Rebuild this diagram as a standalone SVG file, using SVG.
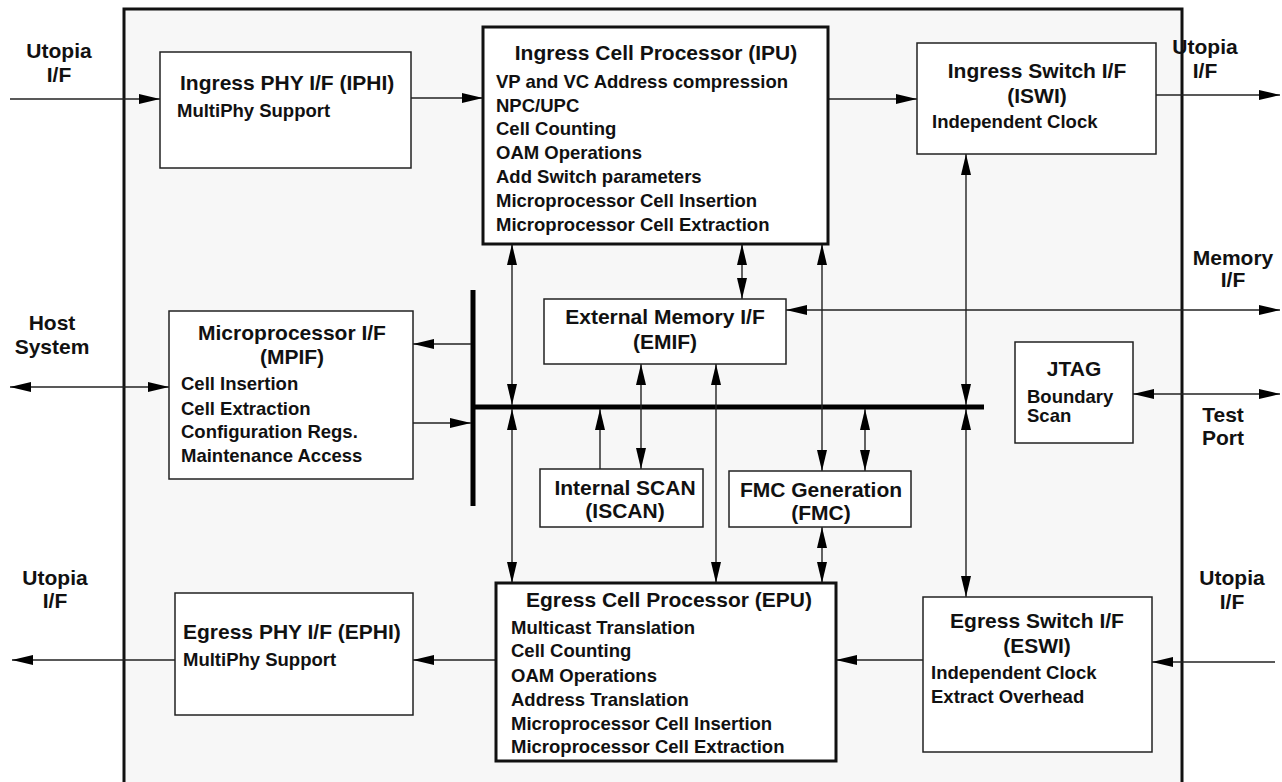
<svg xmlns="http://www.w3.org/2000/svg" width="1282" height="782" viewBox="0 0 1282 782">
<defs>
<marker id="ah" markerUnits="userSpaceOnUse" markerWidth="22" markerHeight="11" refX="21" refY="5" orient="auto-start-reverse">
<path d="M0,0 L21,5 L0,10 z" fill="#000"/>
</marker>
<style>
text{font-family:"Liberation Sans",Arial,sans-serif;font-weight:bold;fill:#111}
.t{font-size:21px}
.s{font-size:18.5px}
.l{font-size:21px;text-anchor:middle}
.c{text-anchor:middle}
.box{fill:#fff;stroke:#222;stroke-width:1.5}
.bold{fill:#fff;stroke:#111;stroke-width:3}
.w{fill:none;stroke:#222;stroke-width:1.4}
.e{marker-end:url(#ah)}
.b{marker-start:url(#ah);marker-end:url(#ah)}
.bus{stroke:#000;stroke-width:5;fill:none}
</style>
</defs>
<rect width="1282" height="782" fill="#fff"/>
<rect id="chip" x="124" y="9" width="1058" height="800" fill="#f7f7f7" stroke="#111" stroke-width="3"/>

<g id="labels">
<text class="l" x="59" y="58">Utopia</text><text class="l" x="59" y="82">I/F</text>
<text class="l" x="1205" y="54">Utopia</text><text class="l" x="1205" y="78">I/F</text>
<text class="l" x="1233" y="265">Memory</text><text class="l" x="1233" y="287">I/F</text>
<text class="l" x="52" y="330">Host</text><text class="l" x="52" y="354">System</text>
<text class="l" x="1223" y="422">Test</text><text class="l" x="1223" y="445">Port</text>
<text class="l" x="55" y="585">Utopia</text><text class="l" x="55" y="608">I/F</text>
<text class="l" x="1232" y="585">Utopia</text><text class="l" x="1232" y="609">I/F</text>
</g>

<g id="connectors">
<line class="bus" x1="473" y1="290" x2="473" y2="506"/>
<line class="bus" x1="471" y1="407" x2="984" y2="407"/>
<line class="w e" x1="10" y1="99" x2="160" y2="99"/>
<line class="w e" x1="411" y1="98" x2="483" y2="98"/>
<line class="w e" x1="828" y1="99" x2="917" y2="99"/>
<line class="w e" x1="1156" y1="95" x2="1280" y2="95"/>
<line class="w b" x1="10" y1="387" x2="169" y2="387"/>
<line class="w e" x1="471" y1="344" x2="413" y2="344"/>
<line class="w e" x1="413" y1="423" x2="471" y2="423"/>
<line class="w b" x1="512" y1="244" x2="512" y2="405"/>
<line class="w b" x1="512" y1="409" x2="512" y2="583"/>
<line class="w b" x1="742" y1="244" x2="742" y2="299"/>
<line class="w b" x1="641" y1="364" x2="641" y2="469"/>
<line class="w b" x1="716" y1="364" x2="716" y2="583"/>
<line class="w e" x1="600" y1="469" x2="600" y2="409"/>
<line class="w b" x1="822" y1="244" x2="822" y2="471"/>
<line class="w b" x1="865" y1="409" x2="865" y2="471"/>
<line class="w b" x1="822" y1="527" x2="822" y2="583"/>
<line class="w b" x1="966" y1="154" x2="966" y2="405"/>
<line class="w b" x1="966" y1="409" x2="966" y2="597"/>
<line class="w b" x1="786" y1="310" x2="1280" y2="310"/>
<line class="w b" x1="1133" y1="394" x2="1280" y2="394"/>
<line class="w e" x1="175" y1="660" x2="12" y2="660"/>
<line class="w e" x1="496" y1="660" x2="413" y2="660"/>
<line class="w e" x1="923" y1="660" x2="836" y2="660"/>
<line class="w e" x1="1275" y1="662" x2="1152" y2="662"/>
</g>

<g id="IPHI">
<rect class="box" x="160" y="52" width="251" height="116"/>
<text class="t" x="180" y="90">Ingress PHY I/F (IPHI)</text>
<text class="s" x="177" y="117">MultiPhy Support</text>
</g>

<g id="IPU">
<rect class="bold" x="483" y="27" width="345" height="217"/>
<text class="t c" x="656" y="60">Ingress Cell Processor (IPU)</text>
<text class="s" x="496" y="88">VP and VC Address compression</text>
<text class="s" x="496" y="112">NPC/UPC</text>
<text class="s" x="496" y="135">Cell Counting</text>
<text class="s" x="496" y="159">OAM Operations</text>
<text class="s" x="496" y="183">Add Switch parameters</text>
<text class="s" x="496" y="207">Microprocessor Cell Insertion</text>
<text class="s" x="496" y="231">Microprocessor Cell Extraction</text>
</g>

<g id="ISWI">
<rect class="box" x="917" y="43" width="239" height="111"/>
<text class="t c" x="1037" y="78">Ingress Switch I/F</text>
<text class="t c" x="1037" y="103">(ISWI)</text>
<text class="s" x="932" y="128">Independent Clock</text>
</g>

<g id="MPIF">
<rect class="box" x="169" y="311" width="244" height="168"/>
<text class="t c" x="292" y="340">Microprocessor I/F</text>
<text class="t c" x="292" y="364">(MPIF)</text>
<text class="s" x="181" y="390">Cell Insertion</text>
<text class="s" x="181" y="415">Cell Extraction</text>
<text class="s" x="181" y="438">Configuration Regs.</text>
<text class="s" x="181" y="462">Maintenance Access</text>
</g>

<g id="EMIF">
<rect class="box" x="544" y="299" width="242" height="65"/>
<text class="t c" x="665" y="324">External Memory I/F</text>
<text class="t c" x="665" y="349">(EMIF)</text>
</g>

<g id="ISCAN">
<rect class="box" x="540" y="469" width="163" height="58"/>
<text class="t c" x="625" y="495">Internal SCAN</text>
<text class="t c" x="625" y="518">(ISCAN)</text>
</g>

<g id="FMC">
<rect class="box" x="729" y="471" width="182" height="56"/>
<text class="t c" x="821" y="497">FMC Generation</text>
<text class="t c" x="821" y="520">(FMC)</text>
</g>

<g id="JTAG">
<rect class="box" x="1015" y="342" width="118" height="101"/>
<text class="t c" x="1074" y="376">JTAG</text>
<text class="s" x="1027" y="403">Boundary</text>
<text class="s" x="1027" y="422">Scan</text>
</g>

<g id="EPHI">
<rect class="box" x="175" y="593" width="238" height="122"/>
<text class="t" x="183" y="639">Egress PHY I/F (EPHI)</text>
<text class="s" x="183" y="666">MultiPhy Support</text>
</g>

<g id="EPU">
<rect class="bold" x="496" y="583" width="340" height="178"/>
<text class="t c" x="669" y="607">Egress Cell Processor (EPU)</text>
<text class="s" x="511" y="634">Multicast Translation</text>
<text class="s" x="511" y="657">Cell Counting</text>
<text class="s" x="511" y="682">OAM Operations</text>
<text class="s" x="511" y="706">Address Translation</text>
<text class="s" x="511" y="730">Microprocessor Cell Insertion</text>
<text class="s" x="511" y="753">Microprocessor Cell Extraction</text>
</g>

<g id="ESWI">
<rect class="box" x="923" y="597" width="229" height="155"/>
<text class="t c" x="1037" y="628">Egress Switch I/F</text>
<text class="t c" x="1037" y="653">(ESWI)</text>
<text class="s" x="931" y="679">Independent Clock</text>
<text class="s" x="931" y="703">Extract Overhead</text>
</g>
</svg>
